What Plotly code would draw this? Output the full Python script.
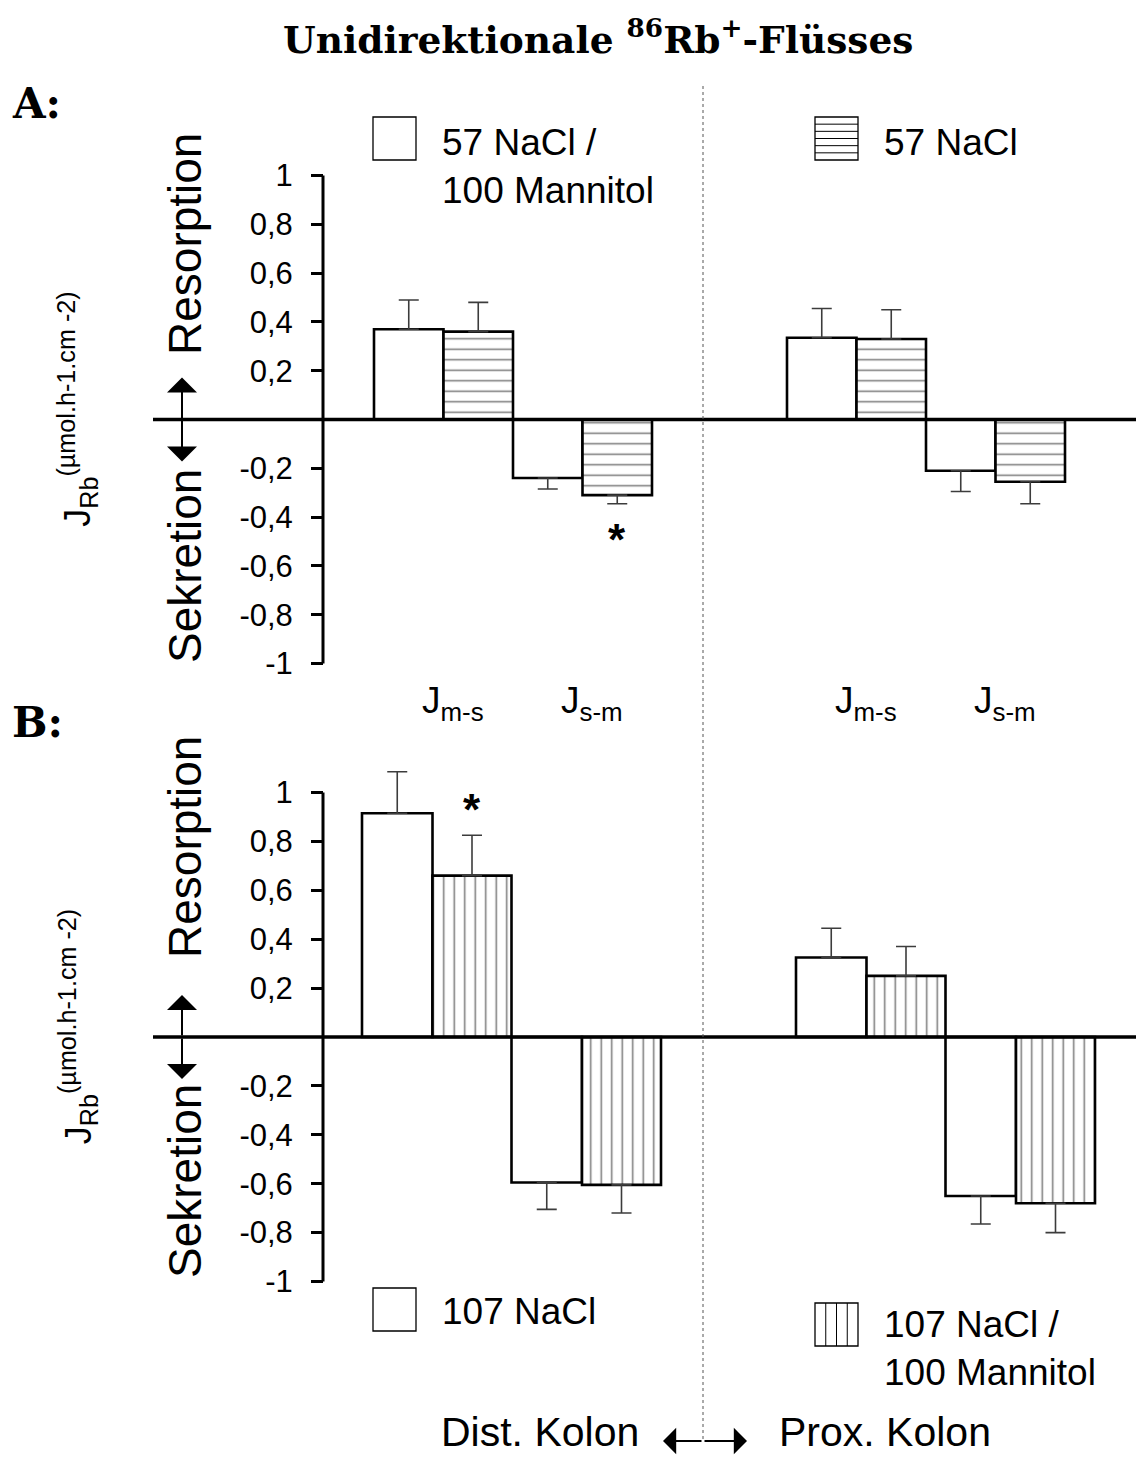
import plotly.graph_objects as go

# ---------------- data ----------------
sites = ["Dist. Kolon", "Prox. Kolon"]
flux_labels = ["J<sub>m-s</sub>", "J<sub>s-m</sub>"]
y_tick_values = [-1, -0.8, -0.6, -0.4, -0.2, 0.2, 0.4, 0.6, 0.8, 1]
y_tick_labels = ["-1", "-0,8", "-0,6", "-0,4", "-0,2", "0,2", "0,4", "0,6", "0,8", "1"]

# order of values: Dist J m-s, Dist J s-m, Prox J m-s, Prox J s-m
a_open_name = "57 NaCl /<br>100 Mannitol"
a_open = [0.37, -0.24, 0.335, -0.21]
a_open_err = [0.12, 0.045, 0.12, 0.085]
a_hatch_name = "57 NaCl"
a_hatch = [0.36, -0.31, 0.33, -0.255]
a_hatch_err = [0.12, 0.035, 0.12, 0.09]
a_hatch_sig = ["", "*", "", ""]

b_open_name = "107 NaCl"
b_open = [0.915, -0.595, 0.325, -0.65]
b_open_err = [0.17, 0.11, 0.12, 0.115]
b_hatch_name = "107 NaCl /<br>100 Mannitol"
b_hatch = [0.66, -0.605, 0.25, -0.68]
b_hatch_err = [0.165, 0.115, 0.12, 0.12]
b_hatch_sig = ["*", "", "", ""]

# ---------------- layout geometry (reference pixels) ----------------
W, H = 1144, 1457
OFF = 8                      # page body margin of the browser
FW, FH = W - OFF, H - OFF    # figure size
SPLIT = 728.5
SANS = "Liberation Sans, Arial, sans-serif"
SERIF = "DejaVu Serif, serif"
AXIS_X = 323


def py(p):
    return 1 - (p - OFF) / FH


panels = [
    dict(key="A", xa="x", ya="y", zero=419.5, unit=244.0, top=OFF, bot=SPLIT,
         starts=[374, 787], widths=[69.5, 69.5], pattern="-",
         series=[(a_open, a_open_err, None), (a_hatch, a_hatch_err, a_hatch_sig)],
         res_bottom=357, sek_top=467, label_y=104),
    dict(key="B", xa="x2", ya="y2", zero=1037.0, unit=244.5, top=SPLIT, bot=H,
         starts=[362, 796], widths=[70.5, 79.0], pattern="|",
         series=[(b_open, b_open_err, None), (b_hatch, b_hatch_err, b_hatch_sig)],
         res_bottom=960, sek_top=1082, label_y=722),
]


def centers(p, s):
    out = []
    w0, w1 = p["widths"]
    for c in range(len(sites)):
        for f in range(len(flux_labels)):
            left = p["starts"][c] + f * (w0 + w1) + (w0 if s == 1 else 0)
            out.append(left + p["widths"][s] / 2)
    return out


fig = go.Figure()
shapes = []
annotations = []

for p in panels:
    for s, (vals, errs, sig) in enumerate(p["series"]):
        xs = centers(p, s)
        plus = [e if v > 0 else 0 for v, e in zip(vals, errs)]
        minus = [e if v < 0 else 0 for v, e in zip(vals, errs)]
        marker = dict(color="white", line=dict(color="black", width=2.6))
        if s == 1:
            marker["pattern"] = dict(shape=p["pattern"], size=10.5, solidity=0.15,
                                     fgcolor="black", bgcolor="white", fillmode="overlay")
        fig.add_trace(go.Bar(
            x=xs, y=vals, width=[p["widths"][s]] * len(vals),
            xaxis=p["xa"], yaxis=p["ya"], marker=marker, showlegend=False,
            hoverinfo="skip",
            error_y=dict(type="data", symmetric=False, array=plus, arrayminus=minus,
                         color="#3c3c3c", thickness=1.6, width=10),
        ))
        if sig:
            for x, v, e, t in zip(xs, vals, errs, sig):
                if t:
                    up = v > 0
                    annotations.append(dict(
                        x=x, y=v + e if up else v - e, xref=p["xa"], yref=p["ya"],
                        text="<b>*</b>", showarrow=False,
                        font=dict(family=SANS, size=44, color="black"),
                        yshift=26 if up else -36))
    yref = p["ya"]
    # zero line and y axis line
    shapes.append(dict(type="line", xref=p["xa"], yref=yref, x0=153, x1=W, y0=0, y1=0,
                       line=dict(color="black", width=3.5)))
    shapes.append(dict(type="line", xref=p["xa"], yref=yref, x0=AXIS_X, x1=AXIS_X, y0=-1, y1=1,
                       line=dict(color="black", width=3)))
    # Resorption / Sekretion labels and arrows
    annotations.append(dict(x=185, y=py(p["res_bottom"]), xref=p["xa"], yref="paper",
                            text="Resorption", textangle=-90, showarrow=False,
                            xanchor="center", yanchor="bottom",
                            font=dict(family=SANS, size=46, color="black")))
    annotations.append(dict(x=185, y=py(p["sek_top"]), xref=p["xa"], yref="paper",
                            text="Sekretion", textangle=-90, showarrow=False,
                            xanchor="center", yanchor="top",
                            font=dict(family=SANS, size=46, color="black")))
    for sign in (1, -1):
        annotations.append(dict(x=182, y=sign * 42 / p["unit"], xref=p["xa"], yref=yref,
                                ax=0, ay=sign * 42, text="", showarrow=True,
                                arrowhead=1, arrowsize=2.5, arrowwidth=2.0,
                                arrowcolor="black", standoff=0, startstandoff=0))
    # J_Rb unit label
    annotations.append(dict(x=78, y=0.04, xref=p["xa"], yref=yref,
                            text="J<sub>Rb</sub><sup>(µmol.h</sup><sup>-1</sup><sup>.cm </sup>"
                                 "<sup>-2</sup><sup>)</sup>",
                            textangle=-90, showarrow=False, xanchor="center", yanchor="middle",
                            font=dict(family=SANS, size=36, color="black")))
    # panel letter
    annotations.append(dict(x=10, y=py(p["label_y"]), xref=p["xa"], yref="paper",
                            text="<b>%s:</b>" % p["key"], showarrow=False, xanchor="left",
                            yanchor="middle", font=dict(family=SERIF, size=42, color="black")))

# J labels under panel A
pa = panels[0]
w0, w1 = pa["widths"]
for c in range(len(sites)):
    for f, lab in enumerate(flux_labels):
        gx = pa["starts"][c] + f * (w0 + w1) + w0 + 9
        annotations.append(dict(x=gx, y=py(703), xref="x", yref="paper", text=lab,
                                showarrow=False, xanchor="center", yanchor="middle",
                                font=dict(family=SANS, size=37, color="black")))


# legends (swatches + text)
def swatch(x0, y0, size, hatch):
    shapes.append(dict(type="rect", xref="x", yref="paper", x0=x0, x1=x0 + size,
                       y0=py(y0), y1=py(y0 + size), line=dict(color="black", width=1.3),
                       fillcolor="white"))
    if hatch == "-":
        for k in range(1, 6):
            yy = y0 + k * size / 6
            shapes.append(dict(type="line", xref="x", yref="paper", x0=x0, x1=x0 + size,
                               y0=py(yy), y1=py(yy), line=dict(color="black", width=1)))
    elif hatch == "|":
        for k in range(1, 4):
            xx = x0 + k * size / 4
            shapes.append(dict(type="line", xref="x", yref="paper", x0=xx, x1=xx,
                               y0=py(y0), y1=py(y0 + size), line=dict(color="black", width=1)))


def legend_text(x, y, text):
    annotations.append(dict(x=x, y=py(y), xref="x", yref="paper", text=text, showarrow=False,
                            xanchor="left", yanchor="middle", align="left",
                            font=dict(family=SANS, size=37, color="black")))


swatch(373, 117, 43, None)
legend_text(440, 166, a_open_name)
swatch(815, 117, 43, "-")
legend_text(882, 142, a_hatch_name)
swatch(373, 1288, 43, None)
legend_text(440, 1311, b_open_name)
swatch(815, 1303, 43, "|")
legend_text(882, 1348, b_hatch_name)

# divider between distal and proximal colon
shapes.append(dict(type="line", xref="x", yref="paper", x0=703, x1=703, y0=py(86), y1=py(1441),
                   line=dict(color="#555555", width=1, dash="dot")))
for tip in (663, 747):
    annotations.append(dict(x=tip, y=py(1441), xref="x", yref="paper", ax=703 - tip, ay=0,
                            text="", showarrow=True, arrowhead=1, arrowsize=2.2,
                            arrowwidth=2, arrowcolor="black", standoff=0, startstandoff=0))
annotations.append(dict(x=641, y=py(1432), xref="x", yref="paper", text=sites[0],
                        showarrow=False, xanchor="right", yanchor="middle",
                        font=dict(family=SANS, size=41, color="black")))
annotations.append(dict(x=777, y=py(1432), xref="x", yref="paper", text=sites[1],
                        showarrow=False, xanchor="left", yanchor="middle",
                        font=dict(family=SANS, size=41, color="black")))

# title
annotations.append(dict(x=598, y=py(37), xref="x", yref="paper",
                        text="<b>Unidirektionale <sup>86</sup>Rb<sup>+</sup>-Flüsses</b>",
                        showarrow=False, xanchor="center", yanchor="middle",
                        font=dict(family=SERIF, size=37.5, color="black")))

yaxis_common = dict(anchor="free", position=(AXIS_X - OFF) / FW, tickmode="array",
                    tickvals=y_tick_values, ticktext=y_tick_labels, ticks="outside",
                    ticklen=12, tickwidth=2.5, tickcolor="black", showline=False,
                    showgrid=False, zeroline=False, ticklabelstandoff=12,
                    tickfont=dict(family=SANS, size=31, color="black"))
xaxis_common = dict(range=[OFF, W], domain=[0, 1], visible=False, showgrid=False, zeroline=False)

pa, pb = panels
fig.update_layout(
    width=FW, height=FH, margin=dict(l=0, r=0, t=0, b=0),
    paper_bgcolor="white", plot_bgcolor="rgba(0,0,0,0)",
    barmode="overlay", showlegend=False,
    xaxis=dict(**xaxis_common, anchor="y"),
    xaxis2=dict(**xaxis_common, anchor="y2"),
    yaxis=dict(**yaxis_common, domain=[1 - (SPLIT - OFF) / FH, 1],
               range=[(pa["zero"] - pa["bot"]) / pa["unit"], (pa["zero"] - pa["top"]) / pa["unit"]]),
    yaxis2=dict(**yaxis_common, domain=[0, 1 - (SPLIT - OFF) / FH],
                range=[(pb["zero"] - pb["bot"]) / pb["unit"], (pb["zero"] - pb["top"]) / pb["unit"]]),
    shapes=shapes, annotations=annotations,
)

fig.write_html("out.html")
